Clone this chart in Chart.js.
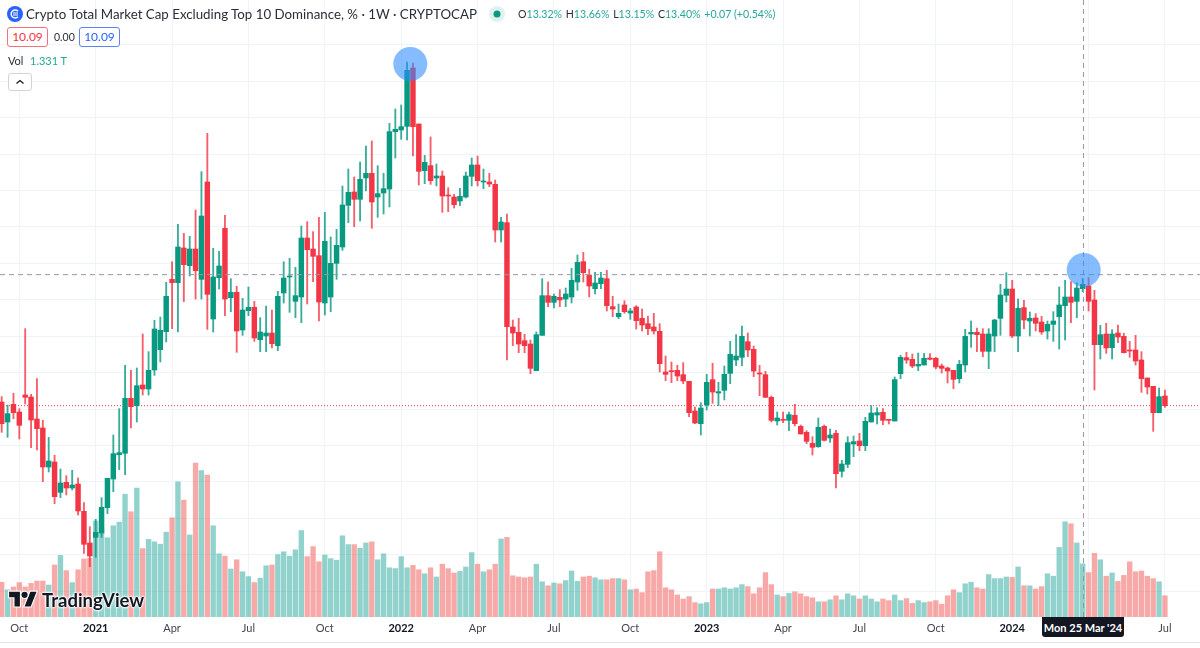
<!DOCTYPE html>
<html>
<head>
<meta charset="utf-8">
<title>Crypto Total Market Cap Excluding Top 10 Dominance</title>
<script src="https://cdn.jsdelivr.net/npm/chart.js@4/dist/chart.umd.min.js"></script>
<style>
html,body{margin:0;padding:0;background:#fff;width:1200px;height:648px;overflow:hidden;font-family:Lato,"Noto Sans",sans-serif;color:#131722}
#wrap{position:relative;width:1200px;height:648px}
canvas{position:absolute;left:0;top:0}
.t{position:absolute;white-space:nowrap}
.box{position:absolute;box-sizing:border-box;height:20px;border:1px solid;border-radius:3px;text-align:center;font-size:12px;line-height:18px;background:#fff}
</style>
</head>
<body>
<div id="wrap">
<canvas id="c" width="1200" height="648"></canvas>
<svg class="t" style="left:7px;top:6px" width="16" height="16" viewBox="0 0 16 16"><circle cx="8" cy="8" r="8" fill="#2962ff"/><path d="M11 5.2A4 4 0 1 0 11 10.8" fill="none" stroke="#fff" stroke-width="1.4"/><path d="M6 7h5M6 9h5" stroke="#fff" stroke-width="1.1"/></svg>
<div class="t" style="left:26px;top:4px;font-size:13.3px;line-height:20px;color:#2a2e39">Crypto Total Market Cap Excluding Top 10 Dominance, % · 1W · CRYPTOCAP</div>
<svg class="t" style="left:489px;top:6px" width="16" height="16"><circle cx="8" cy="8" r="8" fill="#089981" fill-opacity=".13"/><circle cx="8" cy="8" r="3.5" fill="#089981"/></svg>
<div class="t" style="left:518px;top:5px;font-size:10.6px;line-height:18px;color:#26a69a"><span style="color:#2a2e39">O</span>13.32% <span style="color:#2a2e39;margin-left:1px">H</span>13.66% <span style="color:#2a2e39;margin-left:1px">L</span>13.15% <span style="color:#2a2e39;margin-left:1px">C</span>13.40% <span style="margin-left:1px">+0.07 (+0.54%)</span></div>
<div class="box" style="left:7px;top:27px;width:41px;border-color:#f7707c;color:#f23645">10.09</div>
<div class="t" style="left:54px;top:28px;font-size:10.5px;line-height:19px;color:#2a2e39">0.00</div>
<div class="box" style="left:79px;top:27px;width:41px;border-color:#5b85f7;color:#2962ff">10.09</div>
<div class="t" style="left:8px;top:52px;font-size:11px;line-height:18px;color:#2a2e39">Vol</div>
<div class="t" style="left:30px;top:52px;font-size:11px;line-height:18px;color:#26a69a">1.331 T</div>
<div class="t" style="left:8px;top:73px;width:24px;height:18px;box-sizing:border-box;border:1px solid #d1d4dc;border-radius:3px;background:#fff"><svg width="22" height="16"><path d="M7.5 9.5L11 6.5L14.5 9.5" fill="none" stroke="#131722" stroke-width="1.3"/></svg></div>
<svg class="t" style="left:9px;top:591px;overflow:visible" width="28" height="17" viewBox="0 0 36 22"><g stroke="#fff" stroke-width="3" paint-order="stroke"><path d="M14 20H7V8H0V1h14v19zM28 20h-8l7.5-19h8L28 20z" fill="#131722"/><circle cx="20" cy="5" r="4" fill="#131722"/></g></svg>
<div class="t" style="left:42px;top:587px;font-size:18.5px;font-weight:700;line-height:26px;color:#131722;text-shadow:0 0 2px #fff,0 0 2px #fff,0 0 3px #fff,0 0 3px #fff">TradingView</div>
<div class="t" style="left:0;top:642px;width:1200px;height:1px;background:#e0e3eb"></div>
<div class="t" style="left:1042px;top:617px;width:82px;height:20px;background:#131722;border-radius:0 0 3px 3px;color:#fff;font-size:11px;font-weight:700;line-height:22px;text-align:center">Mon 25 Mar '24</div>
</div>
<script>
const opens = [10.18,9.58,10.11,9.88,10.39,10.33,9.67,9.40,8.23,8.38,7.47,7.77,7.60,7.72,6.90,5.95,6.12,6.25,7.01,7.87,
8.60,8.64,10.29,10.07,10.69,10.57,11.14,11.75,12.29,13.86,13.76,14.80,14.27,14.77,13.86,16.78,12.67,13.91,15.39,13.31,
13.47,12.34,12.92,13.02,12.05,12.16,12.25,11.87,13.45,13.93,13.20,13.33,15.10,14.77,14.57,13.15,13.33,14.34,14.83,16.08,
16.48,16.26,16.90,17.04,16.33,16.45,16.57,18.29,18.34,18.45,20.20,18.52,17.12,17.27,16.90,16.96,16.39,16.33,16.21,16.33,
16.95,17.29,16.78,16.78,16.71,15.34,15.56,12.43,12.27,12.02,11.92,11.12,12.18,13.37,13.17,13.32,13.27,13.33,13.78,14.39,
13.99,13.58,13.73,13.88,13.04,12.74,13.09,12.85,13.03,12.69,12.53,12.43,12.30,11.08,11.12,11.13,11.00,10.80,9.91,9.53,
10.09,10.85,10.45,10.53,11.04,11.44,11.52,11.99,11.76,11.05,11.00,10.32,9.61,9.66,9.63,9.78,9.45,9.27,8.94,8.84,
9.45,9.10,9.24,8.10,8.31,8.92,9.01,8.87,9.58,9.79,9.87,9.66,9.61,11.03,11.51,11.46,11.26,11.29,11.50,11.49,
11.26,11.20,11.13,10.88,11.29,12.22,12.27,12.22,11.70,12.16,12.69,13.38,13.57,12.16,13.01,12.61,12.70,12.58,12.31,12.51,
12.74,13.07,13.33,13.20,13.58,13.66,13.24,11.90,12.22,11.81,12.25,12.15,11.74,11.74,11.44,10.90,10.65,9.86,10.36];
const highs = [10.34,10.09,10.44,9.98,12.38,10.41,10.88,9.63,9.12,8.58,8.17,7.97,8.13,7.90,7.16,6.44,6.66,7.31,7.89,9.19,
9.98,11.28,11.13,11.20,12.22,11.69,12.63,12.73,13.77,14.39,15.51,15.24,15.15,15.94,17.09,18.24,14.79,14.70,15.78,13.88,
13.65,13.29,13.63,13.20,12.71,13.06,12.94,13.50,14.39,14.49,14.22,15.46,15.59,15.29,15.72,15.87,15.13,15.36,16.66,17.17,
16.93,17.38,17.86,18.01,17.27,17.04,18.54,18.97,19.09,20.38,20.35,18.52,17.58,18.13,17.32,17.11,16.61,16.41,16.59,17.08,
17.50,17.56,17.17,17.04,16.84,15.72,15.82,12.64,12.69,12.21,12.04,12.28,13.88,13.78,13.42,13.55,13.60,14.19,14.59,14.67,
14.16,14.07,14.07,14.13,13.35,13.12,13.22,12.99,13.07,12.97,12.76,12.84,12.53,11.56,11.38,11.28,11.36,10.80,10.03,10.16,
11.01,11.34,10.77,11.26,12.00,12.20,12.46,12.25,11.86,11.28,11.10,10.36,9.88,9.88,9.88,10.11,9.49,9.32,9.14,9.70,
9.49,9.37,9.33,8.43,9.14,9.16,9.24,9.72,10.07,10.01,9.98,9.66,10.93,11.58,11.67,11.62,11.65,11.64,11.63,11.52,
11.32,11.23,11.13,11.43,12.36,12.61,12.40,12.38,12.38,12.66,13.71,14.06,13.83,13.27,13.23,12.88,12.83,12.75,12.61,12.89,
13.63,13.83,13.79,13.76,13.89,13.91,13.53,12.48,12.54,12.35,12.49,12.24,12.00,12.18,11.69,10.90,10.65,10.60,10.54];
const lows = [9.27,9.12,9.68,9.07,10.12,8.81,8.74,7.79,8.08,7.13,7.31,7.39,7.54,6.79,5.64,5.24,5.52,6.12,6.83,7.49,
8.15,8.00,9.40,9.58,10.39,10.39,10.98,11.38,11.98,12.38,12.28,13.19,13.96,13.27,13.27,12.36,12.28,13.57,12.77,12.89,
11.67,12.18,12.77,12.00,11.69,11.69,11.80,11.72,13.15,12.87,12.71,12.56,13.12,13.79,12.61,12.79,12.89,13.86,14.73,15.56,
15.44,15.61,16.51,15.39,15.72,15.82,16.03,17.50,18.06,18.04,17.56,16.69,16.73,16.71,16.66,15.87,15.89,16.00,16.07,16.30,
16.66,16.66,16.58,16.64,14.98,14.98,11.44,11.87,11.66,11.66,11.03,11.12,12.18,13.04,13.00,13.04,13.04,13.15,13.53,13.78,
13.33,13.42,13.58,12.91,12.74,12.68,12.84,12.66,12.37,12.31,12.20,12.22,11.08,10.82,10.76,10.82,10.73,9.74,9.53,9.19,
9.94,10.14,10.07,10.24,10.73,11.27,11.27,11.54,10.94,10.37,10.32,9.58,9.49,9.56,9.32,9.46,9.22,8.93,8.59,8.82,
9.01,8.97,7.60,7.93,8.21,8.54,8.72,8.72,9.58,9.52,9.50,9.52,9.61,10.88,11.34,11.21,11.12,11.29,11.44,11.17,
11.05,10.75,10.58,10.75,11.08,11.82,11.69,11.54,11.18,11.69,12.18,13.18,12.11,11.69,12.38,12.16,12.31,12.21,12.07,12.00,
11.77,12.04,12.56,12.71,13.49,12.91,10.54,11.47,11.64,11.47,11.96,11.65,11.52,11.29,10.47,10.42,9.30,9.86,10.02];
const closes = [9.53,9.83,9.86,9.48,10.32,9.64,9.38,8.23,8.41,7.34,7.75,7.60,7.69,6.91,5.91,5.56,6.27,7.02,7.89,8.63,
8.66,10.29,10.04,10.67,10.57,11.13,12.37,12.33,13.35,13.76,14.83,14.30,14.77,14.12,15.76,13.41,13.93,14.26,13.27,13.47,
12.31,12.94,13.02,12.10,12.28,12.25,11.93,13.35,13.90,13.96,13.37,15.10,14.75,14.55,13.18,15.00,14.34,14.88,16.09,16.47,
16.26,16.86,17.04,16.18,16.43,16.58,18.29,18.36,18.44,20.13,18.44,17.10,17.37,16.82,16.96,16.36,16.36,16.10,16.35,16.96,
17.29,16.82,16.81,16.72,15.34,15.58,12.44,12.25,11.92,11.87,11.19,12.20,13.37,13.17,13.35,13.24,13.42,13.83,14.37,14.06,
13.66,13.75,13.90,13.07,12.97,12.84,12.89,12.91,12.62,12.49,12.38,12.31,11.33,11.01,11.09,10.96,10.81,9.86,9.55,10.00,
10.77,10.48,10.49,11.01,11.61,11.56,12.15,11.74,11.11,11.02,10.32,9.63,9.70,9.63,9.80,9.53,9.22,9.00,8.82,9.42,
9.03,9.19,8.03,8.32,8.96,8.99,8.87,9.60,9.85,9.86,9.63,9.63,10.85,11.52,11.44,11.26,11.31,11.49,11.46,11.23,
11.19,11.11,10.86,11.31,12.15,12.27,12.20,11.70,12.22,12.64,13.39,13.57,12.16,12.99,12.64,12.69,12.54,12.28,12.51,12.61,
13.09,13.33,13.17,13.60,13.71,13.20,11.90,12.20,11.80,12.22,12.13,11.66,11.71,11.41,10.88,10.63,9.86,10.34,10.07];
const volumeT = [.87,.68,.75,.86,.75,.84,.90,.90,.80,1.30,1.54,1.16,.86,1.18,1.45,1.47,2.40,2.20,1.98,2.28,
2.37,3.07,2.63,3.22,1.71,1.94,1.88,1.82,2.12,2.48,3.38,2.92,2.05,3.85,3.66,3.55,2.28,1.58,1.52,1.20,
1.43,1.13,1.01,.86,.97,1.28,1.30,1.56,1.63,1.52,1.68,2.16,1.51,1.76,1.38,1.55,1.46,1.42,2.03,1.81,
1.81,1.72,1.85,1.88,1.43,1.58,1.23,1.21,1.51,1.23,1.29,1.18,1.08,1.23,1.00,1.32,1.21,1.10,1.14,1.25,
1.61,1.32,1.13,1.18,1.32,1.95,1.99,1.03,1.00,.98,1.00,1.32,.88,.78,.85,.83,.91,1.15,.89,1.00,
1.02,.98,.93,.93,.96,.96,.93,.68,.70,.61,1.13,1.16,1.63,.73,.68,.55,.45,.51,.36,.33,
.36,.70,.70,.73,.70,.73,.81,.76,.58,.73,1.11,.81,.55,.51,.59,.63,.58,.51,.48,.38,
.38,.43,.53,.43,.58,.53,.45,.53,.45,.38,.45,.41,.55,.41,.46,.34,.41,.36,.38,.41,
.32,.53,.68,.61,.83,.87,.73,.70,1.06,.96,.96,1.00,.99,1.25,.78,.78,.70,.76,1.08,1.02,
1.74,2.38,2.33,1.85,1.33,1.11,1.59,1.43,1.02,1.10,.89,1.04,1.38,1.13,1.15,1.02,.96,.88,.53];
const tickIndex = [3,16,29,42,55,68,81,94,107,120,133,146,159,172,185,198];
const tickLabels = ['Oct','2021','Apr','Jul','Oct','2022','Apr','Jul','Oct','2023','Apr','Jul','Oct','2024','','Jul'];
const priceGrid = [20.89,19.80,18.70,17.61,16.52,15.43,14.34,13.25,12.15,11.06,9.97,8.88,7.79,6.69,5.60,4.51];
const markerIndex = [69.55,184.17];
const markerPrice = [20.32,14.14];
const crosshairIndex = 184.13;
const crosshairPrice = 14.0;
const lastPrice = 10.07;

const GREEN='#089981', RED='#f23645', VGREEN='rgba(38,166,154,.5)', VRED='rgba(239,83,80,.5)';
const XMIN=-0.289, XMAX=203.966, YMIN=3.73, YMAX=22.24, VMAX=15.425;
const up = opens.map((o,i)=>closes[i]>=o);
const xLabelOf = v => { const k=tickIndex.indexOf(v); return k<0?'':tickLabels[k]; };
const isYear = c => c.tick ? /^\d/.test(xLabelOf(c.tick.value)) : false;
const noPad = s => { s.paddingLeft=0; s.paddingRight=0; s.paddingTop=0; s.paddingBottom=0; };

new Chart(document.getElementById('c'),{
  type:'bar',
  data:{datasets:[
    {type:'scatter',label:'markers',order:1,clip:false,data:markerIndex.map((x,i)=>({x,y:markerPrice[i]})),pointRadius:17,pointHoverRadius:17,pointBorderWidth:0,pointBackgroundColor:'rgba(45,140,255,.58)'},
    {type:'line',label:'crosshair h',order:3,data:[{x:XMIN,y:crosshairPrice},{x:XMAX,y:crosshairPrice}],borderColor:'#9598a1',borderWidth:1,borderDash:[5,4],pointRadius:0},
    {type:'line',label:'crosshair v',order:3,data:[{x:crosshairIndex,y:YMIN},{x:crosshairIndex,y:YMAX}],borderColor:'#9598a1',borderWidth:1,borderDash:[5,4],pointRadius:0},
    {label:'body',order:5,grouped:false,barThickness:4.8,data:opens.map((o,i)=>({x:i,y:[o,closes[i]]})),backgroundColor:up.map(u=>u?GREEN:RED),borderWidth:0,borderSkipped:false},
    {label:'wick',order:6,grouped:false,barThickness:1.2,data:lows.map((l,i)=>({x:i,y:[l,highs[i]]})),backgroundColor:up.map(u=>u?'rgba(8,153,129,.8)':'rgba(242,54,69,.8)'),borderWidth:0,borderSkipped:false},
    {type:'line',label:'last',order:7,data:[{x:XMIN,y:lastPrice},{x:XMAX,y:lastPrice}],borderColor:RED,borderWidth:1,borderDash:[1,2],pointRadius:0},
    {label:'Vol',order:8,grouped:false,barThickness:4.7,yAxisID:'yv',data:volumeT.map((v,i)=>({x:i,y:v})),backgroundColor:up.map(u=>u?VGREEN:VRED),borderWidth:0}
  ]},
  options:{
    responsive:false,animation:false,events:[],devicePixelRatio:1,
    layout:{padding:0,autoPadding:false},
    plugins:{legend:{display:false},tooltip:{enabled:false}},
    scales:{
      x:{type:'linear',offset:false,min:XMIN,max:XMAX,
        grid:{color:'#f0f3fa',offset:false,drawTicks:false},border:{display:false},
        afterBuildTicks:s=>{s.ticks=tickIndex.map(v=>({value:v}));},
        afterFit:s=>{s.height=31;noPad(s);},
        ticks:{autoSkip:false,maxRotation:0,padding:5,
          callback:v=>xLabelOf(v),
          color:c=>isYear(c)?'#131722':'#434651',
          font:c=>({family:'Lato',size:11,weight:isYear(c)?'700':'400'})}},
      y:{type:'linear',min:YMIN,max:YMAX,position:'right',
        grid:{color:'#f0f3fa',drawTicks:false},border:{display:false},
        afterBuildTicks:s=>{s.ticks=priceGrid.map(v=>({value:v}));},
        afterFit:s=>{s.width=0;noPad(s);},
        ticks:{display:false}},
      yv:{type:'linear',min:0,max:VMAX,display:false}
    }
  }
});
</script>
</body>
</html>
